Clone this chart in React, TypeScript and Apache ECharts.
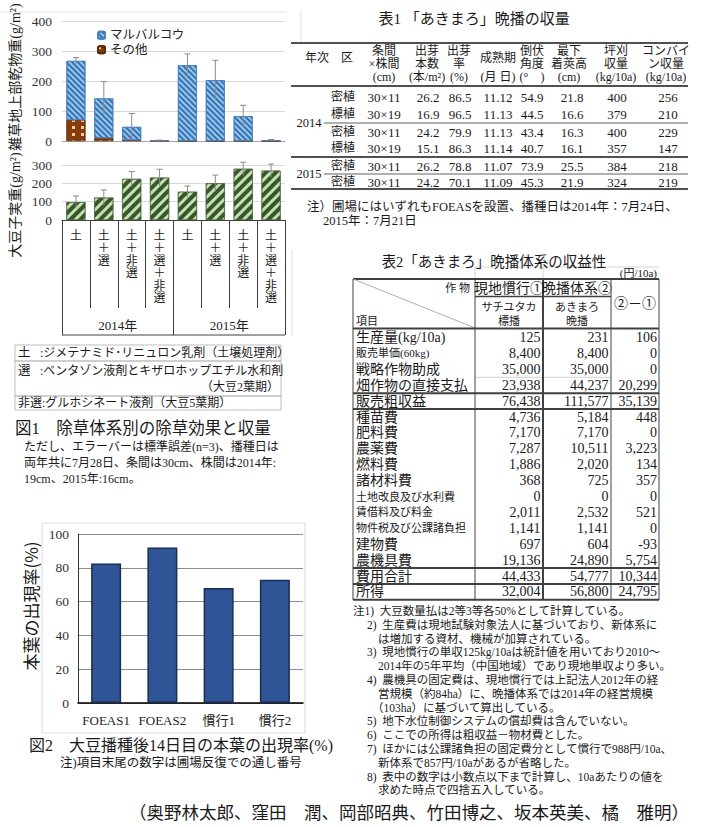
import React, { useEffect, useRef } from 'react';
import * as echarts from 'echarts';

// ---------------- Data ----------------
const treatments = ['土', '土＋選', '土＋非選', '土＋選＋非選', '土', '土＋選', '土＋非選', '土＋選＋非選'];
const years = ['2014年', '2015年'];
const marubaruko = [197, 132, 44, 1, 253, 203, 83, 3];
const others = [70, 10, 3, 1, 0, 0, 0, 0];
const weedSE = [11, 56, 45, 1, 37, 66, 36, 2];
const soyYield = [97, 122, 224, 231, 154, 200, 279, 269];
const soySE = [34, 42, 40, 46, 31, 45, 36, 36];

const fig2Cats = ['FOEAS1', 'FOEAS2', '慣行1', '慣行2'];
const fig2Vals = [82.5, 92, 68, 73];

const herbKeys = ['土', '選', '非選'];
const herbDesc = [
  ':ジメテナミド･リニュロン乳剤（土壌処理剤）',
  ':ベンタゾン液剤とキザロホップエチル水和剤',
  ':グルホシネート液剤（大豆5葉期）',
];
const herbDescCont = '（大豆2葉期）';
const fig1Caption = '図1　除草体系別の除草効果と収量';
const fig1Notes = [
  'ただし、エラーバーは標準誤差(n=3)、播種日は',
  '両年共に7月28日、条間は30cm、株間は2014年:',
  '19cm、2015年:16cm。',
];
const fig2Caption = '図2　大豆播種後14日目の本葉の出現率(%)';
const fig2Note = '注)項目末尾の数字は圃場反復での通し番号';

const t1Title = '表1 「あきまろ」晩播の収量';
const t1Heads = [
  ['年次'], ['区'], ['条間', '×株間', '(cm)'], ['出芽', '本数', '(本/m²)'], ['出芽', '率', '(%)'],
  ['成熟期', '', '(月 日)'], ['倒伏', '角度', '(°　)'], ['最下', '着莢高', '(cm)'],
  ['坪刈', '収量', '(kg/10a)'], ['コンバイ', 'ン収量', '(kg/10a)'],
];
const t1Years = ['2014', '2015'];
const t1Rows = [
  ['密植', '30×11', '26.2', '86.5', '11.12', '54.9', '21.8', '400', '256'],
  ['標植', '30×19', '16.9', '96.5', '11.13', '44.5', '16.6', '379', '210'],
  ['密植', '30×11', '24.2', '79.9', '11.13', '43.4', '16.3', '400', '229'],
  ['標植', '30×19', '15.1', '86.3', '11.14', '40.7', '16.1', '357', '147'],
  ['密植', '30×11', '26.2', '78.8', '11.07', '73.9', '25.5', '384', '218'],
  ['密植', '30×11', '24.2', '70.1', '11.09', '45.3', '21.9', '324', '219'],
];
const t1Notes = ['注）圃場にはいずれもFOEASを設置、播種日は2014年：7月24日、', '2015年：7月21日'];

const t2Title = '表2「あきまろ」晩播体系の収益性';
const t2Unit = '(円/10a)';
const t2Items = ['生産量(kg/10a)', '販売単価(60kg)', '戦略作物助成', '畑作物の直接支払', '販売粗収益', '種苗費', '肥料費', '農薬費', '燃料費', '諸材料費', '土地改良及び水利費', '賃借料及び料金', '物件税及び公課諸負担', '建物費', '農機具費', '費用合計', '所得'];
const t2Conv = ['125', '8,400', '35,000', '23,938', '76,438', '4,736', '7,170', '7,287', '1,886', '368', '0', '2,011', '1,141', '697', '19,136', '44,433', '32,004'];
const t2Late = ['231', '8,400', '35,000', '44,237', '111,577', '5,184', '7,170', '10,511', '2,020', '725', '0', '2,532', '1,141', '604', '24,890', '54,777', '56,800'];
const t2Diff = ['106', '0', '0', '20,299', '35,139', '448', '0', '3,223', '134', '357', '0', '521', '0', '-93', '5,754', '10,344', '24,795'];
const t2SmallRows = [1, 10, 11, 12];
const t2Notes = [
  '注1)  大豆数量払は2等3等各50%として計算している。',
  '2)  生産費は現地試験対象法人に基づいており、新体系に',
  'は増加する資材、機械が加算されている。',
  '3)  現地慣行の単収125kg/10aは統計値を用いており2010～',
  '2014年の5年平均（中国地域）であり現地単収より多い。',
  '4)  農機具の固定費は、現地慣行では上記法人2012年の経',
  '営規模（約84ha）に、晩播体系では2014年の経営規模',
  '（103ha）に基づいて算出している。',
  '5)  地下水位制御システムの償却費は含んでいない。',
  '6)  ここでの所得は粗収益－物材費とした。',
  '7)  ほかには公課諸負担の固定費分として慣行で988円/10a、',
  '新体系で857円/10aがあるが省略した。',
  '8)  表中の数字は小数点以下まで計算し、10aあたりの値を',
  '求めた時点で四捨五入している。',
];
const t2NoteIndent = [0, 1, 2, 1, 2, 1, 2, 3, 1, 1, 1, 2, 1, 2];
const authors = '（奥野林太郎、窪田　潤、岡部昭典、竹田博之、坂本英美、橘　雅明）';

// ---------------- Helpers ----------------
const SERIF = '"Liberation Serif", "Noto Sans CJK JP", serif';
const SANS = '"Noto Sans CJK JP", sans-serif';

function T(text: string, x: number, y: number, size: number, o: any = {}) {
  return {
    type: 'text', x, y, rotation: o.rot || 0, silent: true, z: 20,
    style: {
      text,
      font: `normal ${size}px ${o.fam || SERIF}`,
      fill: o.color || '#1a1a1a',
      textAlign: o.align || 'left',
      textVerticalAlign: o.va || 'middle',
    },
  };
}
function L(x1: number, y1: number, x2: number, y2: number, w = 1, c = '#404040') {
  return { type: 'line', silent: true, z: 19, shape: { x1, y1, x2, y2 }, style: { stroke: c, lineWidth: w } };
}

function buildGraphics() {
  const g: any[] = [];
  // faint frame lines from page composition
  g.push(L(0, 12, 287, 12, 1, '#e3e3e3'));
  g.push(L(301, 10, 301, 42, 1, '#dedede'));
  g.push(L(292, 250, 292, 336, 1, '#e0e0e0'));

  // ---- Figure 1 ----
  g.push(T('雑草地上部乾物重(g/m²)', 15, 77, 14, { rot: Math.PI / 2, align: 'center' }));
  g.push(T('大豆子実重(g/m²)', 15, 205, 14, { rot: Math.PI / 2, align: 'center' }));
  g.push(L(62, 335, 285, 335, 1, '#404040'));
  // herbicide legend box
  g.push({ type: 'rect', silent: true, z: 19, shape: { x: 15, y: 345, width: 266, height: 65 }, style: { fill: 'none', stroke: '#bdbdbd', lineWidth: 1 } });
  g.push(L(15, 361, 281, 361, 1, '#9e9e9e'));
  g.push(L(15, 396, 281, 396, 1, '#9e9e9e'));
  g.push(T(herbKeys[0], 18, 353, 12.5));
  g.push(T(herbDesc[0], 40, 353, 12));
  g.push(T(herbKeys[1], 18, 371, 12.5));
  g.push(T(herbDesc[1], 40, 371, 12));
  g.push(T(herbDescCont, 279, 387, 12, { align: 'right' }));
  g.push(T(herbKeys[2] + herbDesc[2], 18, 403, 12));
  g.push(T(fig1Caption, 15, 428, 16.5));
  fig1Notes.forEach((s, i) => g.push(T(s, 24, 447 + i * 16, 12)));

  // ---- Figure 2 ----
  g.push({ type: 'rect', silent: true, z: 1, shape: { x: 42, y: 523, width: 263, height: 210 }, style: { fill: 'none', stroke: '#dcdcdc', lineWidth: 1 } });
  g.push(T('本葉の出現率(%)', 30, 606, 17, { rot: Math.PI / 2, align: 'center', fam: SANS }));
  g.push(T(fig2Caption, 29, 745, 16));
  g.push(T(fig2Note, 60, 763, 12.5));

  // ---- Table 1 ----
  g.push(T(t1Title, 474, 19, 15, { align: 'center' }));
  g.push(L(291, 43, 688, 43, 2, '#505050'));
  const hx = [317, 347, 384, 427, 459, 498, 532, 569, 616, 666];
  t1Heads.forEach((h, c) => {
    if (h.length === 1) g.push(T(h[0], hx[c], 58, 12, { align: 'center' }));
    else {
      if (h[1] === '') g.push(T(h[0], hx[c], 58, 12, { align: 'center' }));
      else {
        g.push(T(h[0], hx[c], 51, 12, { align: 'center' }));
        g.push(T(h[1], hx[c], 64, 12, { align: 'center' }));
      }
      g.push(T(h[2], hx[c], 77, 12, { align: 'center' }));
    }
  });
  g.push(L(291, 86, 688, 86, 2, '#505050'));
  const dx = [343, 384, 428, 460, 498, 532, 572, 617, 668];
  const ry = [97, 114, 132, 148, 166, 182];
  t1Rows.forEach((r, i) => r.forEach((v, c) => g.push(T(v, dx[c], ry[i], c === 0 ? 12 : 13, { align: 'center' }))));
  g.push(L(324, 123, 688, 123, 1, '#606060'));
  g.push(L(291, 157, 688, 157, 2, '#505050'));
  g.push(L(324, 174, 688, 174, 1, '#606060'));
  g.push(L(291, 189, 688, 189, 2, '#505050'));
  g.push(T(t1Years[0], 309, 123, 12.5, { align: 'center' }));
  g.push(T(t1Years[1], 309, 174, 12.5, { align: 'center' }));
  g.push(T(t1Notes[0], 307, 207, 12.5));
  g.push(T(t1Notes[1], 323, 221, 12.5));

  // ---- Table 2 ----
  g.push(T(t2Title, 494, 262, 14.5, { align: 'center' }));
  g.push(L(475, 267, 659, 267, 1, '#d5d5d5'));
  g.push(L(475, 267, 475, 279, 1, '#d5d5d5'));
  g.push(L(543, 267, 543, 279, 1, '#d5d5d5'));
  g.push(T(t2Unit, 657, 273, 11, { align: 'right' }));
  g.push(L(353, 279, 659, 279, 2, '#404040'));
  g.push(L(353, 279, 475, 328, 1, '#b0b0b0'));
  g.push(T('作 物', 470, 288, 11, { align: 'right' }));
  g.push(T('現地慣行①', 509, 288, 14, { align: 'center' }));
  g.push(T('晩播体系②', 577, 288, 14, { align: 'center' }));
  g.push(L(475, 296.5, 611, 296.5, 1.5, '#404040'));
  g.push(T('サチユタカ', 509, 307, 11, { align: 'center' }));
  g.push(T('標播', 509, 321, 11, { align: 'center' }));
  g.push(T('あきまろ', 577, 307, 11, { align: 'center' }));
  g.push(T('晩播', 577, 321, 11, { align: 'center' }));
  g.push(T('②－①', 635, 303, 14, { align: 'center' }));
  g.push(T('項目', 356, 321, 11));
  g.push(L(353, 328.5, 659, 328.5, 2, '#404040'));
  const rowY = (i: number) => 337.5 + i * 15.9;
  t2Items.forEach((s, i) => {
    const small = t2SmallRows.indexOf(i) >= 0;
    g.push(T(s, 356, rowY(i), small ? 11 : 14));
    g.push(T(t2Conv[i], 540.5, rowY(i), 14, { align: 'right' }));
    g.push(T(t2Late[i], 608.5, rowY(i), 14, { align: 'right' }));
    g.push(T(t2Diff[i], 657, rowY(i), 14, { align: 'right' }));
  });
  g.push(L(475, rowY(2.5), 611, rowY(2.5), 1, '#d0d0d0'));
  [3, 4, 14, 15, 16].forEach((i) => g.push(L(353, rowY(i + 0.5), 659, rowY(i + 0.5), 2, '#404040')));
  g.push(L(353, 279, 353, 600, 1, '#404040'));
  g.push(L(475, 279, 475, 600, 1, '#404040'));
  g.push(L(543, 279, 543, 600, 2, '#404040'));
  g.push(L(611, 279, 611, 600, 1, '#404040'));
  g.push(L(659, 279, 659, 600, 1, '#404040'));
  const indentX = [353, 367, 378, 372];
  t2Notes.forEach((s, i) => g.push(T(s, indentX[t2NoteIndent[i]], 611 + i * 13.8, 11.5)));

  g.push(T(authors, 689, 813, 17.5, { align: 'right' }));
  return g;
}

const errRender = (params: any, api: any) => {
  const i = api.value(0), v = api.value(1), e = api.value(2);
  const p1 = api.coord([i, v + e]);
  const p0 = api.coord([i, Math.max(v - e, 0)]);
  const st = { stroke: '#8a8a8a', lineWidth: 1 };
  return {
    type: 'group',
    children: [
      { type: 'line', shape: { x1: p1[0], y1: p1[1], x2: p0[0], y2: p0[1] }, style: st },
      { type: 'line', shape: { x1: p1[0] - 3, y1: p1[1], x2: p1[0] + 3, y2: p1[1] }, style: st },
    ],
  };
};

function buildOption() {
  const weedTotals = marubaruko.map((m, i) => m + others[i]);
  const axisFont = { fontFamily: SERIF, color: '#333', fontSize: 13.5 };
  const blue = {
    color: '#9dc3e6', borderColor: '#4a7fc0', borderWidth: 0.8,
    decal: { symbol: 'rect', symbolSize: 1, color: '#2e75b6', dashArrayX: [1, 0], dashArrayY: [1.2, 2], rotation: Math.PI / 4 },
  };
  const brown = {
    color: '#843c0c', borderColor: '#5e2a08', borderWidth: 0.5,
    decal: { symbol: 'rect', symbolSize: 1, color: '#f6c9a3', dashArrayX: [2.5, 6], dashArrayY: [2.5, 4], rotation: 0 },
  };
  const green = {
    color: '#c5e0b4', borderColor: '#38572a', borderWidth: 0.5,
    decal: { symbol: 'rect', symbolSize: 1, color: '#38572a', dashArrayX: [1, 0], dashArrayY: [3.2, 3], rotation: -Math.PI / 4 },
  };
  return {
    animation: false,
    backgroundColor: '#fff',
    grid: [
      { left: 62, top: 21, width: 223, height: 120 },
      { left: 62, top: 165, width: 223, height: 55 },
      { left: 78, top: 534, width: 225, height: 169 },
    ],
    legend: {
      data: ['マルバルコウ', 'その他'], left: 92, top: 24, orient: 'vertical',
      itemWidth: 7, itemHeight: 7, itemGap: 2,
      textStyle: { fontFamily: SERIF, fontSize: 12.5, color: '#222' },
    },
    xAxis: [
      { type: 'category', gridIndex: 0, data: treatments, axisLine: { lineStyle: { color: '#a6a6a6' } }, axisTick: { show: false }, axisLabel: { show: false } },
      {
        type: 'category', gridIndex: 1, data: treatments, position: 'bottom',
        axisLine: { show: true, lineStyle: { color: '#404040' } },
        axisTick: { show: true, length: 88, interval: 0, alignWithLabel: false, lineStyle: { color: '#404040', width: 1 } },
        axisLabel: { interval: 0, formatter: (v: string) => v.split('').join('\n'), lineHeight: 12.5, fontSize: 12, fontFamily: SANS, color: '#222', margin: 8, verticalAlign: 'top' },
      },
      {
        type: 'category', gridIndex: 1, data: years, position: 'bottom',
        axisLine: { show: false },
        axisTick: { show: true, length: 115, interval: 0, alignWithLabel: false, lineStyle: { color: '#404040', width: 1 } },
        axisLabel: { interval: 0, fontSize: 13, fontFamily: SERIF, color: '#222', margin: 99, verticalAlign: 'top' },
      },
      {
        type: 'category', gridIndex: 2, data: fig2Cats,
        axisLine: { lineStyle: { color: '#000', width: 1.5 } }, axisTick: { show: false },
        axisLabel: { interval: 0, fontSize: 13, fontFamily: SERIF, color: '#222', margin: 11 },
      },
    ],
    yAxis: [
      { type: 'value', gridIndex: 0, min: 0, max: 400, interval: 100, axisLine: { show: false }, axisTick: { show: false }, axisLabel: { ...axisFont, margin: 10 }, splitLine: { lineStyle: { color: '#d9d9d9' } } },
      { type: 'value', gridIndex: 1, min: 0, max: 300, interval: 100, axisLine: { show: false }, axisTick: { show: false }, axisLabel: { ...axisFont, margin: 10 }, splitLine: { lineStyle: { color: '#d9d9d9' } } },
      { type: 'value', gridIndex: 2, min: 0, max: 100, interval: 20, axisLine: { show: true, lineStyle: { color: '#333' } }, axisTick: { show: false }, axisLabel: { ...axisFont, margin: 9 }, splitLine: { lineStyle: { color: '#8c8c8c', width: 1.2 } } },
    ],
    series: [
      { name: 'その他', type: 'bar', xAxisIndex: 0, yAxisIndex: 0, stack: 'weed', barWidth: 19, data: others, itemStyle: brown },
      { name: 'マルバルコウ', type: 'bar', xAxisIndex: 0, yAxisIndex: 0, stack: 'weed', barWidth: 19, data: marubaruko, itemStyle: blue },
      { name: '雑草SE', type: 'custom', xAxisIndex: 0, yAxisIndex: 0, z: 5, renderItem: errRender, encode: { x: 0, y: 1 }, data: weedTotals.map((v, i) => [i, v, weedSE[i]]) },
      { name: '大豆子実重', type: 'bar', xAxisIndex: 1, yAxisIndex: 1, barWidth: 19, data: soyYield, itemStyle: green },
      { name: '大豆SE', type: 'custom', xAxisIndex: 1, yAxisIndex: 1, z: 5, renderItem: errRender, encode: { x: 0, y: 1 }, data: soyYield.map((v, i) => [i, v, soySE[i]]) },
      { name: '本葉の出現率', type: 'bar', xAxisIndex: 3, yAxisIndex: 2, barWidth: 30, data: fig2Vals, itemStyle: { color: '#2f5597', borderColor: '#1b2d55', borderWidth: 1.5 } },
    ],
    graphic: buildGraphics(),
  };
}

export default function App() {
  const ref = useRef<HTMLDivElement>(null);
  useEffect(() => {
    const chart = echarts.init(ref.current!, null, { renderer: 'svg' });
    chart.setOption(buildOption() as any);
    return () => chart.dispose();
  }, []);
  return (
    <div style={{ position: 'absolute', left: 0, top: 0, width: 705, height: 827, background: '#fff', overflow: 'hidden' }}>
      <div ref={ref} style={{ width: 705, height: 827 }} />
    </div>
  );
}
